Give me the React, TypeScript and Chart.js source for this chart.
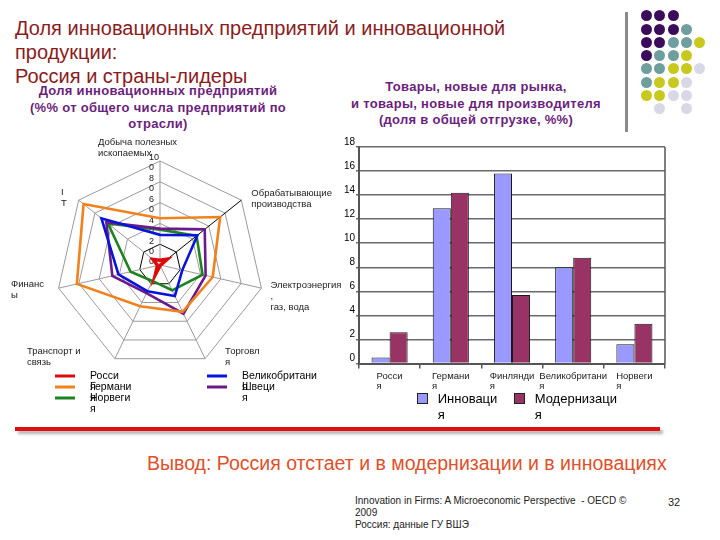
import React, { useEffect, useRef } from 'react';
import { Chart, registerables } from 'chart.js';

Chart.register(...registerables);

const FONT = '"Liberation Sans", Arial, sans-serif';

// ---------- Radar data ----------
const radarLabels = [
  ['Добыча полезных', 'ископаемых'],
  ['Обрабатывающие', 'производства'],
  ['Электроэнергия', ',', 'газ, вода'],
  ['Торговл', 'я'],
  ['Транспорт и', 'связь'],
  ['Финанс', 'ы'],
  ['I', 'T'],
];
const radarTickValues = [0, 20, 40, 60, 80, 100];
const radarTickLabels = [['0'], ['2', '0'], ['4', '0'], ['6', '0'], ['8', '0'], ['10', '0']];
const radarSeriesNames = ['Россия', 'Великобритания', 'Германия', 'Швеция', 'Норвегия'];
const russiaShare = [4.5, 9, 0.5, 0.5, 10.5, 2.5, 8.5];
const ukShare = [29, 46, 22, 33, 28, 41, 72];
const germanyShare = [45, 74, 52, 50, 44, 82, 94];
const swedenShare = [35, 55, 45, 52, 30, 47, 66];
const norwayShare = [34, 45, 42, 27, 17, 29, 64];

// ---------- Bar data ----------
const barCountries = ['Россия', 'Германия', 'Финляндия', 'Великобритания', 'Норвегия'];
const barSeriesNames = ['Инновация', 'Модернизация'];
const innovationShare = [0.5, 12.9, 15.8, 8.0, 1.6];
const modernizationShare = [2.6, 14.2, 5.7, 8.8, 3.3];
const barTickMax = 18;
const barTickStep = 2;

// ---------- layout / style (not data) ----------
const radarColors = ['#dd0a0a', '#0a14d8', '#f0821e', '#6a1a8a', '#1e821e'];
const radarLabelOffsets = [
  [-62, -19],
  [10, -7],
  [9, -3],
  [20, -7],
  [-88, -7],
  [-47.6, -4],
  [-17.7, -8],
];
const barColors = ['#9999ff', '#993366'];

const dotColors: Record<string, string> = {
  P: '#3c0c5c',
  T: '#6e9e9e',
  Y: '#c8c81e',
  L: '#d8d8e6',
};
const dotGrid = [
  'PPP..',
  'PPPT.',
  'PPTTY',
  'PTTY.',
  'TTYYL',
  'TYYL.',
  'YYLL.',
  '.L.L.',
];

const wrapLast = (s: string) => [s.slice(0, -1), s.slice(-1)];

const radarTextPlugin = {
  id: 'radarText',
  beforeDatasetsDraw(chart: any) {
    const s: any = chart.scales.r;
    const ctx = chart.ctx;
    ctx.save();
    ctx.fillStyle = '#1a1a1a';
    ctx.textBaseline = 'middle';
    ctx.textAlign = 'left';
    ctx.font = `9px ${FONT}`;
    radarTickValues.forEach((v, i) => {
      const y = s.yCenter - s.getDistanceFromCenterForValue(v);
      radarTickLabels[i].forEach((t, k) => ctx.fillText(t, s.xCenter - 11, y - 3 + k * 10));
    });
    ctx.restore();
  },
  afterDraw(chart: any) {
    const s: any = chart.scales.r;
    const ctx = chart.ctx;
    ctx.save();
    ctx.fillStyle = '#1a1a1a';
    ctx.textBaseline = 'middle';
    ctx.textAlign = 'left';
    ctx.font = `9.5px ${FONT}`;
    (chart.data.labels as string[][]).forEach((lines, i) => {
      const p = s.getPointPosition(i, s.drawingArea);
      const [dx, dy] = radarLabelOffsets[i];
      lines.forEach((t, k) => ctx.fillText(t, p.x + dx, p.y + dy + k * 11));
    });
    // legend
    chart.data.datasets.forEach((ds: any, i: number) => {
      const col = i % 2;
      const row = Math.floor(i / 2);
      const x0 = 55 + col * 152;
      const y = 246 + row * 11;
      ctx.strokeStyle = ds.borderColor;
      ctx.lineWidth = 3;
      ctx.beginPath();
      ctx.moveTo(x0, y);
      ctx.lineTo(x0 + 20, y);
      ctx.stroke();
      ctx.font = `10.5px ${FONT}`;
      ctx.fillStyle = '#000';
      wrapLast(ds.label).forEach((t, k) => ctx.fillText(t, x0 + 35, y + k * 11));
    });
    ctx.restore();
  },
};

const barTextPlugin = {
  id: 'barText',
  afterDraw(chart: any) {
    const ctx = chart.ctx;
    const ca = chart.chartArea;
    const xs = chart.scales.x;
    ctx.save();
    ctx.strokeStyle = '#555';
    ctx.lineWidth = 1.5;
    ctx.beginPath();
    ctx.moveTo(ca.right, ca.top);
    ctx.lineTo(ca.right, ca.bottom);
    ctx.stroke();
    ctx.fillStyle = '#1a1a1a';
    ctx.textBaseline = 'middle';
    ctx.textAlign = 'left';
    ctx.font = `9.5px ${FONT}`;
    (chart.data.labels as string[]).forEach((lab, i) => {
      const x = xs.getPixelForValue(i);
      const [a, b] = wrapLast(lab);
      const w = ctx.measureText(a).width;
      ctx.fillText(a, x - w / 2, ca.bottom + 12.5);
      ctx.fillText(b, x - w / 2, ca.bottom + 22.5);
    });
    chart.data.datasets.forEach((ds: any, i: number) => {
      const bx = 77 + i * 97;
      const by = 263;
      ctx.fillStyle = ds.backgroundColor;
      ctx.fillRect(bx, by, 11, 11);
      ctx.strokeStyle = '#222';
      ctx.lineWidth = 1;
      ctx.strokeRect(bx + 0.5, by + 0.5, 10, 10);
      ctx.fillStyle = '#000';
      ctx.font = `13px ${FONT}`;
      wrapLast(ds.label).forEach((t, k) => ctx.fillText(t, bx + 20.7, by + 6 + k * 16));
    });
    ctx.restore();
  },
};

function RadarChart() {
  const ref = useRef<HTMLCanvasElement>(null);
  useEffect(() => {
    const series = [russiaShare, ukShare, germanyShare, swedenShare, norwayShare];
    const chart = new Chart(ref.current as HTMLCanvasElement, {
      type: 'radar',
      data: {
        labels: radarLabels as any,
        datasets: series.map((d, i) => ({
          label: radarSeriesNames[i],
          data: d,
          borderColor: radarColors[i],
          backgroundColor: radarColors[i],
          borderWidth: i === 0 ? 3.5 : 2.6,
          pointRadius: 0,
          fill: false,
        })),
      },
      options: {
        responsive: false,
        animation: false,
        plugins: { legend: { display: false }, tooltip: { enabled: false } },
        scales: {
          r: {
            min: 0,
            max: 100,
            ticks: { display: false, stepSize: 20 },
            pointLabels: { display: false },
            grid: {
              color: (c: any) => (c.tick && c.tick.value === 20 ? '#000' : '#9a9a9a'),
              lineWidth: 1,
            },
            angleLines: {
              color: (c: any) => (c.index === 1 ? '#000' : '#9a9a9a'),
              lineWidth: 1,
            },
            afterFit: (s: any) => {
              s.xCenter = 160;
              s.yCenter = 135;
              s.drawingArea = 104;
            },
          } as any,
        },
      },
      plugins: [radarTextPlugin],
    });
    return () => chart.destroy();
  }, []);
  return (
    <canvas ref={ref} width={360} height={290} style={{ position: 'absolute', left: 0, top: 130 }} />
  );
}

function BarChart() {
  const ref = useRef<HTMLCanvasElement>(null);
  useEffect(() => {
    const series = [innovationShare, modernizationShare];
    const chart = new Chart(ref.current as HTMLCanvasElement, {
      type: 'bar',
      data: {
        labels: barCountries,
        datasets: series.map((d, i) => ({
          label: barSeriesNames[i],
          data: d,
          backgroundColor: barColors[i],
          borderColor: '#1a1a1a',
          borderWidth: 1,
          borderSkipped: 'bottom',
          categoryPercentage: 0.59,
          barPercentage: 1,
        })),
      },
      options: {
        responsive: false,
        animation: false,
        layout: { padding: { left: 0, top: 17, right: 55, bottom: 61.5 } },
        plugins: { legend: { display: false }, tooltip: { enabled: false } },
        scales: {
          x: {
            grid: { offset: true, drawOnChartArea: false, drawTicks: true, tickLength: 5, color: '#555', lineWidth: 1.5 },
            border: { color: '#555', width: 2 },
            ticks: { display: false },
            afterFit: (s: any) => {
              s.height = 5;
            },
          },
          y: {
            min: 0,
            max: barTickMax,
            ticks: { stepSize: barTickStep, font: { size: 10, family: FONT }, color: '#000', padding: 1, labelOffset: -5 },
            grid: { color: '#6a6a6a', lineWidth: 1.5, tickLength: 3 },
            border: { color: '#555', width: 2 },
            afterFit: (s: any) => {
              s.width = 19;
            },
          },
        },
      },
      plugins: [barTextPlugin],
    });
    return () => chart.destroy();
  }, []);
  return (
    <canvas ref={ref} width={380} height={300} style={{ position: 'absolute', left: 340, top: 130 }} />
  );
}

export default function App() {
  return (
    <div
      style={{
        position: 'absolute',
        left: 0,
        top: 0,
        width: 720,
        height: 540,
        background: '#fff',
        overflow: 'hidden',
        fontFamily: FONT,
      }}
    >
      <div
        style={{
          position: 'absolute',
          left: 15,
          top: 16,
          fontSize: 20,
          lineHeight: '24px',
          color: '#8c1c1c',
          whiteSpace: 'nowrap',
        }}
      >
        Доля инновационных предприятий и инновационной
        <br />
        продукции:
        <br />
        Россия и страны-лидеры
      </div>

      <div
        style={{
          position: 'absolute',
          left: 0,
          width: 316,
          top: 83,
          fontSize: 13,
          fontWeight: 'bold',
          lineHeight: '16.5px',
          textAlign: 'center',
          color: '#6b1f7c',
          letterSpacing: 0.3,
          whiteSpace: 'nowrap',
        }}
      >
        Доля инновационных предприятий
        <br />
        (%% от общего числа предприятий по
        <br />
        отрасли)
      </div>

      <div
        style={{
          position: 'absolute',
          left: 340,
          width: 272,
          top: 79,
          fontSize: 13,
          fontWeight: 'bold',
          lineHeight: '16.5px',
          textAlign: 'center',
          color: '#6b1f7c',
          letterSpacing: 0.3,
          whiteSpace: 'nowrap',
        }}
      >
        Товары, новые для рынка,
        <br />
        и товары, новые для производителя
        <br />
        (доля в общей отгрузке, %%)
      </div>

      <div style={{ position: 'absolute', left: 625, top: 12, width: 3, height: 120, background: '#8a8a8a' }} />
      {dotGrid.map((row, r) =>
        row.split('').map((c, k) =>
          c === '.' ? null : (
            <div
              key={`${r}-${k}`}
              style={{
                position: 'absolute',
                left: 646.7 + k * 13.2 - 5.5,
                top: 15.7 + r * 13.3 - 5.5,
                width: 11,
                height: 11,
                borderRadius: '50%',
                background: dotColors[c],
              }}
            />
          ),
        ),
      )}

      <BarChart />
      <RadarChart />

      <div
        style={{
          position: 'absolute',
          left: 15,
          top: 427,
          width: 645,
          height: 4,
          background: '#e01010',
          boxShadow: '3px 3px 3px rgba(0,0,0,0.3)',
        }}
      />

      <div
        style={{
          position: 'absolute',
          left: 147,
          top: 451,
          fontSize: 19.5,
          lineHeight: '24px',
          color: '#e0502a',
          whiteSpace: 'nowrap',
        }}
      >
        Вывод: Россия отстает и в модернизации и в инновациях
      </div>

      <div
        style={{
          position: 'absolute',
          left: 355,
          top: 495,
          fontSize: 10,
          lineHeight: '12px',
          color: '#222',
          whiteSpace: 'nowrap',
        }}
      >
        Innovation in Firms: A Microeconomic Perspective&nbsp; - OECD ©
        <br />
        2009
        <br />
        Россия: данные ГУ ВШЭ
      </div>
      <div style={{ position: 'absolute', left: 668, top: 496, fontSize: 11, lineHeight: '12px', color: '#222' }}>32</div>
    </div>
  );
}
